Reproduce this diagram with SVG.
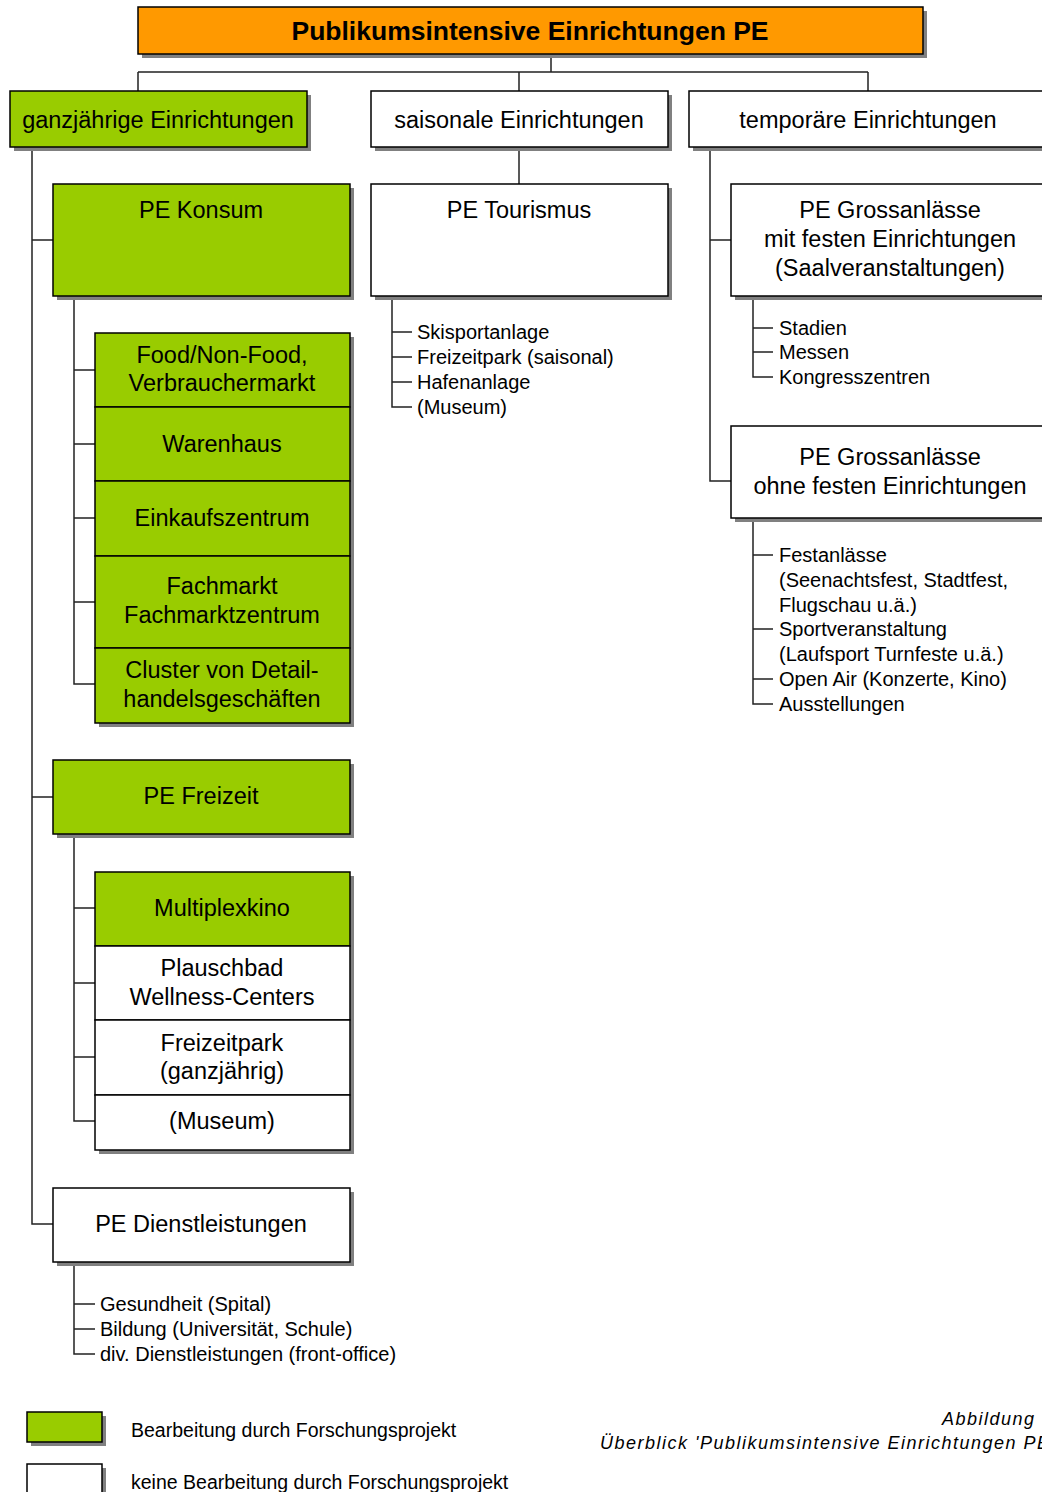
<svg xmlns="http://www.w3.org/2000/svg" width="1042" height="1492" viewBox="0 0 1042 1492">
<style>
text{font-family:"Liberation Sans",Arial,sans-serif;fill:#000}
.n{font-size:23.5px;text-anchor:middle}
.l{font-size:20px}
.sh{fill:#808080}
.g{fill:#99CC00;stroke:#000;stroke-width:1.5}
.w{fill:#fff;stroke:#000;stroke-width:1.5}
.o{fill:#FF9900;stroke:#000;stroke-width:1.5}
.c{fill:none;stroke:#222;stroke-width:1.5}
.cap{font-size:18px;font-style:italic;letter-spacing:1.5px}
</style>
<rect width="1042" height="1492" fill="#fff"/>
<g id="connectors">
<path class="c" d="M551 54V72M138 72H868M138 72V91M519 72V91M868 72V91"/>
<path class="c" d="M32 147V1224H53M32 240H53M32 797H53"/>
<path class="c" d="M74 296V684H95M74 370H95M74 444H95M74 518H95M74 602H95"/>
<path class="c" d="M74 834V1121H95M74 908H95M74 983H95M74 1057H95"/>
<path class="c" d="M74 1262V1354H95M74 1304H95M74 1329H95"/>
<path class="c" d="M519 147V184"/>
<path class="c" d="M392 296V407H412M392 332H412M392 357H412M392 382H412"/>
<path class="c" d="M710 147V481H731M710 240H731"/>
<path class="c" d="M753 296V377H773M753 328H773M753 352H773"/>
<path class="c" d="M753 518V704H773M753 555H773M753 629H773M753 679H773"/>
</g>
<g id="title"><rect class="sh" x="142" y="11" width="785" height="47"/><rect class="o" x="138" y="7" width="785" height="47"/><text x="530" y="40" font-size="26.5" font-weight="bold" text-anchor="middle">Publikumsintensive Einrichtungen PE</text></g>
<g id="ganzjaehrig"><rect class="sh" x="14" y="95" width="297" height="56"/><rect class="g" x="10" y="91" width="297" height="56"/><text class="n" x="158" y="128">ganzjährige Einrichtungen</text></g>
<g id="saisonal"><rect class="sh" x="375" y="95" width="297" height="56"/><rect class="w" x="371" y="91" width="297" height="56"/><text class="n" x="519" y="128">saisonale Einrichtungen</text></g>
<g id="temporaer"><rect class="sh" x="693" y="95" width="360" height="56"/><rect class="w" x="689" y="91" width="360" height="56"/><text class="n" x="868" y="128">temporäre Einrichtungen</text></g>
<g id="konsum"><rect class="sh" x="57" y="188" width="297" height="112"/><rect class="g" x="53" y="184" width="297" height="112"/><text class="n" x="201" y="218">PE Konsum</text></g>
<g id="konsum-stack"><rect class="sh" x="99" y="337" width="255" height="390"/>
<g id="food"><rect class="g" x="95" y="333" width="255" height="74"/><text class="n" x="222" y="363">Food/Non-Food,</text><text class="n" x="222" y="391">Verbrauchermarkt</text></g>
<g id="warenhaus"><rect class="g" x="95" y="407" width="255" height="74"/><text class="n" x="222" y="452">Warenhaus</text></g>
<g id="einkaufszentrum"><rect class="g" x="95" y="481" width="255" height="75"/><text class="n" x="222" y="526">Einkaufszentrum</text></g>
<g id="fachmarkt"><rect class="g" x="95" y="556" width="255" height="92"/><text class="n" x="222" y="594">Fachmarkt</text><text class="n" x="222" y="623">Fachmarktzentrum</text></g>
<g id="cluster"><rect class="g" x="95" y="648" width="255" height="75"/><text class="n" x="222" y="678">Cluster von Detail-</text><text class="n" x="222" y="707">handelsgeschäften</text></g>
</g>
<g id="freizeit"><rect class="sh" x="57" y="764" width="297" height="74"/><rect class="g" x="53" y="760" width="297" height="74"/><text class="n" x="201" y="804">PE Freizeit</text></g>
<g id="freizeit-stack"><rect class="sh" x="99" y="876" width="255" height="278"/>
<g id="multiplex"><rect class="g" x="95" y="872" width="255" height="74"/><text class="n" x="222" y="916">Multiplexkino</text></g>
<g id="plauschbad"><rect class="w" x="95" y="946" width="255" height="74"/><text class="n" x="222" y="976">Plauschbad</text><text class="n" x="222" y="1005">Wellness-Centers</text></g>
<g id="freizeitpark"><rect class="w" x="95" y="1020" width="255" height="75"/><text class="n" x="222" y="1051">Freizeitpark</text><text class="n" x="222" y="1079">(ganzjährig)</text></g>
<g id="museum"><rect class="w" x="95" y="1095" width="255" height="55"/><text class="n" x="222" y="1129">(Museum)</text></g>
</g>
<g id="dienst"><rect class="sh" x="57" y="1192" width="297" height="74"/><rect class="w" x="53" y="1188" width="297" height="74"/><text class="n" x="201" y="1232">PE Dienstleistungen</text></g>
<g id="dienst-list"><text class="l" x="100" y="1311">Gesundheit (Spital)</text><text class="l" x="100" y="1336">Bildung (Universität, Schule)</text><text class="l" x="100" y="1361">div. Dienstleistungen (front-office)</text></g>
<g id="tourismus"><rect class="sh" x="375" y="188" width="297" height="112"/><rect class="w" x="371" y="184" width="297" height="112"/><text class="n" x="519" y="218">PE Tourismus</text></g>
<g id="tourismus-list"><text class="l" x="417" y="339">Skisportanlage</text><text class="l" x="417" y="364">Freizeitpark (saisonal)</text><text class="l" x="417" y="389">Hafenanlage</text><text class="l" x="417" y="414">(Museum)</text></g>
<g id="gross-mit"><rect class="sh" x="735" y="188" width="320" height="112"/><rect class="w" x="731" y="184" width="320" height="112"/><text class="n" x="890" y="218">PE Grossanlässe</text><text class="n" x="890" y="247">mit festen Einrichtungen</text><text class="n" x="890" y="276">(Saalveranstaltungen)</text></g>
<g id="gross-mit-list"><text class="l" x="779" y="335">Stadien</text><text class="l" x="779" y="359">Messen</text><text class="l" x="779" y="384">Kongresszentren</text></g>
<g id="gross-ohne"><rect class="sh" x="735" y="430" width="320" height="92"/><rect class="w" x="731" y="426" width="320" height="92"/><text class="n" x="890" y="465">PE Grossanlässe</text><text class="n" x="890" y="494">ohne festen Einrichtungen</text></g>
<g id="gross-ohne-list"><text class="l" x="779" y="562">Festanlässe</text><text class="l" x="779" y="587">(Seenachtsfest, Stadtfest,</text><text class="l" x="779" y="612">Flugschau u.ä.)</text><text class="l" x="779" y="636">Sportveranstaltung</text><text class="l" x="779" y="661">(Laufsport  Turnfeste u.ä.)</text><text class="l" x="779" y="686">Open Air (Konzerte, Kino)</text><text class="l" x="779" y="711">Ausstellungen</text></g>
<g id="legend"><rect class="sh" x="31" y="1416" width="75" height="30"/><rect class="g" x="27" y="1412" width="75" height="30"/><text x="131" y="1437" font-size="19.5">Bearbeitung durch Forschungsprojekt</text>
<rect class="sh" x="31" y="1468" width="75" height="30"/><rect class="w" x="27" y="1464" width="75" height="30"/><text x="131" y="1489" font-size="19.5">keine Bearbeitung durch Forschungsprojekt</text></g>
<g id="caption"><text class="cap" x="942" y="1425">Abbildung</text><text class="cap" x="600" y="1449">Überblick 'Publikumsintensive Einrichtungen PE'</text></g>
</svg>
